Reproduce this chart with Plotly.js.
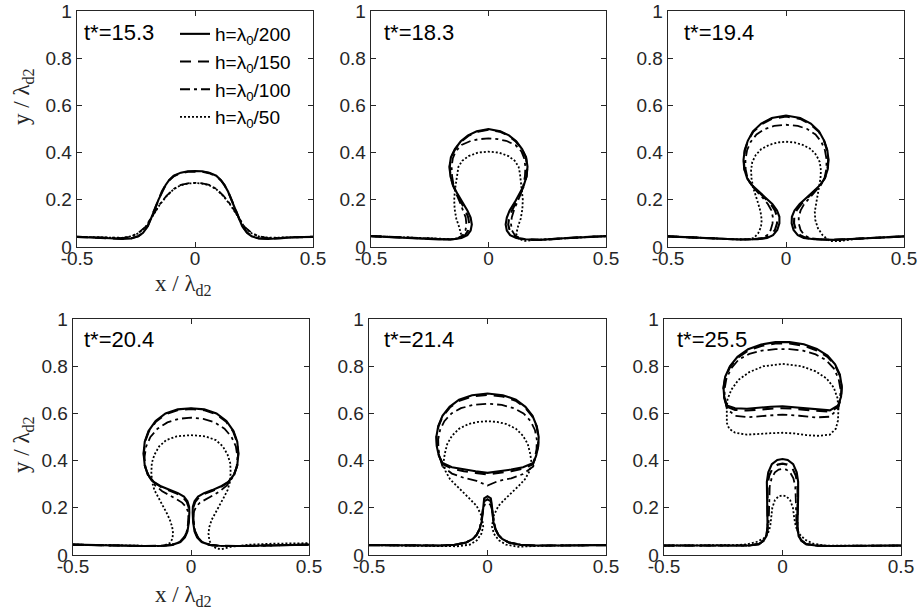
<!DOCTYPE html>
<html>
<head>
<meta charset="utf-8">
<script src="https://cdn.plot.ly/plotly-3.0.1.min.js"></script>
<style>html,body{margin:0;padding:0;background:#fff;}#chart{width:918px;height:616px;}</style>
</head>
<body>
<div id="chart"></div>
<script>
// ---- panel labels ----
const panelTimes = ["t*=15.3", "t*=18.3", "t*=19.4", "t*=20.4", "t*=21.4", "t*=25.5"];
const seriesNames = ["h=λ<sub>0</sub>/200", "h=λ<sub>0</sub>/150", "h=λ<sub>0</sub>/100", "h=λ<sub>0</sub>/50"];
const xTickVals = [-0.5, 0, 0.5];
const xTickText = ["-0.5", "0", "0.5"];
const yTickVals = [0, 0.2, 0.4, 0.6, 0.8, 1];
const yTickText = ["0", "0.2", "0.4", "0.6", "0.8", "1"];

// ---- panel 1 : t*=15.3 ----
const x_p1_h200 = [-0.5,-0.42,-0.36,-0.31,-0.27,-0.24,-0.22,-0.2,-0.185,-0.17,-0.155,-0.14,-0.125,-0.11,-0.09,-0.06,-0.03,0,0.03,0.06,0.09,0.11,0.125,0.14,0.155,0.17,0.185,0.2,0.22,0.24,0.27,0.31,0.36,0.42,0.5];
const y_p1_h200 = [0.043,0.041,0.037,0.034,0.036,0.045,0.06,0.088,0.122,0.16,0.2,0.235,0.262,0.283,0.302,0.315,0.321,0.322,0.321,0.315,0.302,0.283,0.262,0.235,0.2,0.16,0.122,0.088,0.06,0.045,0.036,0.034,0.037,0.041,0.043];
const x_p1_h150 = [-0.5,-0.42,-0.36,-0.31,-0.27,-0.24,-0.22,-0.2,-0.185,-0.17,-0.155,-0.14,-0.125,-0.11,-0.09,-0.06,-0.03,0,0.03,0.06,0.09,0.11,0.125,0.14,0.155,0.17,0.185,0.2,0.22,0.24,0.27,0.31,0.36,0.42,0.5];
const y_p1_h150 = [0.043,0.041,0.037,0.035,0.037,0.046,0.062,0.09,0.125,0.163,0.202,0.236,0.262,0.282,0.3,0.313,0.319,0.32,0.319,0.313,0.3,0.282,0.262,0.236,0.202,0.163,0.125,0.09,0.062,0.046,0.037,0.035,0.037,0.041,0.043];
const x_p1_h100 = [-0.5,-0.42,-0.36,-0.31,-0.27,-0.24,-0.21,-0.18,-0.15,-0.12,-0.09,-0.06,-0.03,0,0.03,0.06,0.09,0.12,0.15,0.18,0.21,0.24,0.27,0.31,0.36,0.42,0.5];
const y_p1_h100 = [0.043,0.042,0.039,0.038,0.045,0.06,0.085,0.135,0.18,0.218,0.246,0.263,0.27,0.272,0.27,0.263,0.246,0.218,0.18,0.135,0.085,0.06,0.045,0.038,0.039,0.042,0.043];
const x_p1_h50 = [-0.5,-0.42,-0.36,-0.31,-0.27,-0.24,-0.21,-0.18,-0.15,-0.12,-0.09,-0.06,-0.03,0,0.03,0.06,0.09,0.12,0.15,0.18,0.21,0.24,0.27,0.31,0.36,0.42,0.5];
const y_p1_h50 = [0.043,0.042,0.04,0.039,0.045,0.058,0.083,0.132,0.178,0.216,0.245,0.262,0.269,0.271,0.269,0.262,0.245,0.216,0.178,0.132,0.083,0.058,0.045,0.039,0.04,0.042,0.043];

// ---- panel 2 : t*=18.3 ----
const x_p2_h200 = [-0.5,-0.4,-0.3,-0.21,-0.15,-0.115,-0.09,-0.076,-0.071,-0.076,-0.09,-0.112,-0.132,-0.15,-0.162,-0.166,-0.16,-0.143,-0.118,-0.087,-0.05,0,0.05,0.087,0.118,0.143,0.16,0.166,0.162,0.15,0.132,0.112,0.09,0.078,0.073,0.078,0.092,0.118,0.155,0.22,0.3,0.4,0.5];
const y_p2_h200 = [0.046,0.042,0.036,0.032,0.033,0.038,0.05,0.07,0.095,0.125,0.155,0.19,0.225,0.26,0.3,0.34,0.38,0.415,0.448,0.473,0.49,0.5,0.49,0.473,0.448,0.415,0.38,0.34,0.3,0.26,0.225,0.19,0.155,0.125,0.095,0.07,0.05,0.038,0.033,0.03,0.036,0.042,0.046];
const x_p2_h150 = [-0.5,-0.4,-0.3,-0.21,-0.16,-0.125,-0.1,-0.087,-0.082,-0.086,-0.098,-0.117,-0.135,-0.151,-0.162,-0.165,-0.159,-0.142,-0.117,-0.086,-0.05,0,0.05,0.086,0.117,0.142,0.159,0.165,0.162,0.151,0.135,0.117,0.1,0.088,0.084,0.09,0.104,0.128,0.16,0.22,0.3,0.4,0.5];
const y_p2_h150 = [0.046,0.042,0.036,0.032,0.032,0.037,0.05,0.07,0.095,0.125,0.155,0.19,0.225,0.26,0.3,0.34,0.38,0.414,0.446,0.471,0.488,0.497,0.488,0.471,0.446,0.414,0.38,0.34,0.3,0.26,0.225,0.19,0.155,0.125,0.095,0.07,0.05,0.037,0.032,0.03,0.036,0.042,0.046];
const x_p2_h100 = [-0.5,-0.4,-0.3,-0.21,-0.16,-0.13,-0.11,-0.098,-0.094,-0.097,-0.107,-0.122,-0.137,-0.148,-0.155,-0.157,-0.152,-0.14,-0.115,-0.075,-0.04,0,0.04,0.075,0.115,0.14,0.152,0.157,0.155,0.148,0.137,0.122,0.108,0.099,0.096,0.1,0.112,0.135,0.165,0.22,0.3,0.4,0.5];
const y_p2_h100 = [0.046,0.042,0.036,0.032,0.032,0.037,0.05,0.07,0.095,0.125,0.155,0.19,0.225,0.26,0.3,0.34,0.375,0.405,0.432,0.45,0.457,0.46,0.457,0.45,0.432,0.405,0.375,0.34,0.3,0.26,0.225,0.19,0.155,0.125,0.095,0.07,0.05,0.037,0.032,0.03,0.036,0.042,0.046];
const x_p2_h50 = [-0.5,-0.4,-0.3,-0.2,-0.15,-0.125,-0.117,-0.125,-0.137,-0.144,-0.146,-0.143,-0.138,-0.134,-0.128,-0.112,-0.085,-0.045,0,0.045,0.085,0.112,0.128,0.134,0.138,0.143,0.146,0.144,0.137,0.125,0.118,0.128,0.155,0.2,0.3,0.4,0.5];
const y_p2_h50 = [0.046,0.042,0.036,0.033,0.033,0.038,0.055,0.085,0.12,0.16,0.2,0.24,0.28,0.31,0.34,0.365,0.385,0.4,0.404,0.4,0.385,0.365,0.34,0.31,0.28,0.24,0.2,0.16,0.12,0.085,0.055,0.035,0.026,0.03,0.036,0.042,0.046];

// ---- panel 3 : t*=19.4 ----
const x_p3_h200 = [-0.5,-0.4,-0.3,-0.2,-0.12,-0.08,-0.055,-0.037,-0.028,-0.028,-0.038,-0.058,-0.088,-0.118,-0.145,-0.165,-0.177,-0.18,-0.175,-0.162,-0.14,-0.105,-0.06,0,0.06,0.105,0.14,0.162,0.175,0.18,0.177,0.165,0.145,0.118,0.088,0.058,0.036,0.025,0.024,0.032,0.05,0.075,0.12,0.2,0.3,0.4,0.5];
const y_p3_h200 = [0.045,0.04,0.035,0.032,0.033,0.038,0.05,0.072,0.1,0.128,0.155,0.182,0.21,0.237,0.263,0.292,0.33,0.37,0.41,0.45,0.49,0.523,0.547,0.557,0.547,0.523,0.49,0.45,0.41,0.37,0.33,0.292,0.263,0.237,0.21,0.182,0.155,0.128,0.1,0.072,0.05,0.038,0.033,0.03,0.035,0.04,0.045];
const x_p3_h150 = [-0.5,-0.4,-0.3,-0.2,-0.13,-0.09,-0.065,-0.047,-0.038,-0.038,-0.047,-0.065,-0.092,-0.12,-0.146,-0.165,-0.176,-0.179,-0.174,-0.161,-0.139,-0.104,-0.06,0,0.06,0.104,0.139,0.161,0.174,0.179,0.176,0.165,0.146,0.12,0.092,0.065,0.045,0.035,0.034,0.042,0.06,0.085,0.13,0.2,0.3,0.4,0.5];
const y_p3_h150 = [0.045,0.04,0.035,0.032,0.033,0.038,0.05,0.072,0.1,0.128,0.155,0.182,0.21,0.237,0.263,0.292,0.33,0.37,0.41,0.45,0.488,0.52,0.543,0.553,0.543,0.52,0.488,0.45,0.41,0.37,0.33,0.292,0.263,0.237,0.21,0.182,0.155,0.128,0.1,0.072,0.05,0.038,0.033,0.03,0.035,0.04,0.045];
const x_p3_h100 = [-0.5,-0.4,-0.3,-0.2,-0.14,-0.105,-0.08,-0.065,-0.057,-0.056,-0.062,-0.077,-0.1,-0.125,-0.148,-0.163,-0.171,-0.172,-0.165,-0.15,-0.125,-0.09,-0.05,0,0.05,0.09,0.125,0.15,0.165,0.172,0.171,0.163,0.148,0.125,0.1,0.077,0.062,0.054,0.054,0.062,0.078,0.1,0.14,0.2,0.3,0.4,0.5];
const y_p3_h100 = [0.045,0.04,0.035,0.032,0.033,0.038,0.05,0.072,0.1,0.128,0.155,0.182,0.21,0.237,0.263,0.292,0.33,0.37,0.41,0.445,0.477,0.5,0.513,0.518,0.513,0.5,0.477,0.445,0.41,0.37,0.33,0.292,0.263,0.237,0.21,0.182,0.155,0.128,0.1,0.072,0.05,0.038,0.033,0.03,0.035,0.04,0.045];
const x_p3_h50 = [-0.5,-0.4,-0.3,-0.2,-0.15,-0.135,-0.118,-0.106,-0.103,-0.108,-0.118,-0.13,-0.14,-0.146,-0.148,-0.143,-0.128,-0.105,-0.07,-0.035,0,0.035,0.07,0.105,0.128,0.143,0.148,0.146,0.14,0.132,0.125,0.122,0.124,0.135,0.155,0.185,0.23,0.3,0.4,0.5];
const y_p3_h50 = [0.045,0.04,0.035,0.032,0.033,0.04,0.058,0.085,0.115,0.15,0.185,0.22,0.255,0.29,0.325,0.36,0.39,0.415,0.433,0.443,0.446,0.443,0.433,0.415,0.39,0.36,0.325,0.29,0.255,0.22,0.185,0.15,0.115,0.08,0.05,0.025,0.025,0.035,0.04,0.045];

// ---- panel 4 : t*=20.4 ----
const x_p4_h200 = [-0.5,-0.4,-0.3,-0.2,-0.12,-0.08,-0.045,-0.026,-0.015,-0.009,-0.007,-0.008,-0.015,-0.03,-0.055,-0.09,-0.125,-0.158,-0.182,-0.196,-0.201,-0.196,-0.18,-0.15,-0.108,-0.056,0,0.056,0.108,0.15,0.18,0.196,0.201,0.196,0.182,0.158,0.125,0.09,0.055,0.03,0.015,0.008,0.007,0.009,0.015,0.026,0.045,0.08,0.12,0.2,0.3,0.4,0.5];
const y_p4_h200 = [0.044,0.042,0.039,0.038,0.039,0.043,0.055,0.075,0.1,0.14,0.18,0.205,0.228,0.248,0.262,0.275,0.29,0.31,0.34,0.38,0.43,0.48,0.525,0.568,0.6,0.617,0.622,0.617,0.6,0.568,0.525,0.48,0.43,0.38,0.34,0.31,0.29,0.275,0.262,0.248,0.228,0.205,0.18,0.14,0.1,0.075,0.055,0.043,0.039,0.038,0.039,0.042,0.044];
const x_p4_h150 = [-0.5,-0.4,-0.3,-0.2,-0.12,-0.08,-0.047,-0.028,-0.017,-0.011,-0.009,-0.01,-0.018,-0.034,-0.06,-0.094,-0.128,-0.16,-0.183,-0.196,-0.2,-0.195,-0.179,-0.149,-0.107,-0.055,0,0.055,0.107,0.149,0.179,0.195,0.2,0.196,0.183,0.16,0.128,0.094,0.06,0.034,0.018,0.01,0.009,0.011,0.017,0.028,0.047,0.08,0.12,0.2,0.3,0.4,0.5];
const y_p4_h150 = [0.044,0.042,0.039,0.038,0.039,0.043,0.055,0.075,0.1,0.14,0.18,0.203,0.225,0.245,0.26,0.273,0.289,0.31,0.34,0.38,0.43,0.48,0.523,0.565,0.597,0.614,0.619,0.614,0.597,0.565,0.523,0.48,0.43,0.38,0.34,0.31,0.289,0.273,0.26,0.245,0.225,0.203,0.18,0.14,0.1,0.075,0.055,0.043,0.039,0.038,0.039,0.042,0.044];
const x_p4_h100 = [-0.5,-0.4,-0.3,-0.2,-0.12,-0.08,-0.048,-0.03,-0.018,-0.012,-0.01,-0.013,-0.022,-0.038,-0.062,-0.092,-0.122,-0.152,-0.177,-0.193,-0.197,-0.19,-0.172,-0.142,-0.1,-0.052,0,0.052,0.1,0.142,0.172,0.19,0.197,0.193,0.177,0.152,0.122,0.092,0.062,0.038,0.022,0.013,0.01,0.012,0.018,0.03,0.048,0.08,0.12,0.2,0.3,0.4,0.5];
const y_p4_h100 = [0.044,0.042,0.039,0.038,0.039,0.043,0.055,0.075,0.1,0.13,0.16,0.185,0.205,0.222,0.237,0.252,0.27,0.295,0.33,0.37,0.415,0.46,0.5,0.535,0.562,0.577,0.582,0.577,0.562,0.535,0.5,0.46,0.415,0.37,0.33,0.295,0.27,0.252,0.237,0.222,0.205,0.185,0.16,0.13,0.1,0.075,0.055,0.043,0.039,0.038,0.039,0.042,0.044];
const x_p4_h50 = [-0.5,-0.4,-0.3,-0.2,-0.14,-0.11,-0.09,-0.079,-0.076,-0.08,-0.09,-0.104,-0.12,-0.138,-0.155,-0.165,-0.168,-0.166,-0.155,-0.135,-0.105,-0.06,0,0.06,0.105,0.135,0.155,0.166,0.168,0.165,0.155,0.137,0.12,0.103,0.088,0.078,0.074,0.078,0.09,0.108,0.13,0.17,0.25,0.35,0.42,0.5];
const y_p4_h50 = [0.044,0.042,0.039,0.038,0.038,0.042,0.05,0.068,0.092,0.12,0.15,0.18,0.21,0.24,0.275,0.31,0.35,0.39,0.425,0.46,0.487,0.503,0.508,0.503,0.487,0.46,0.425,0.39,0.35,0.31,0.275,0.24,0.21,0.18,0.15,0.12,0.092,0.06,0.04,0.027,0.025,0.035,0.044,0.048,0.05,0.05];

// ---- panel 5 : t*=21.4 ----
const x_p5_h200 = [-0.5,-0.4,-0.3,-0.2,-0.14,-0.09,-0.062,-0.046,-0.033,-0.025,-0.02,-0.018,-0.014,0,0.014,0.018,0.02,0.025,0.033,0.046,0.062,0.09,0.14,0.2,0.3,0.4,0.5,null,-0.19,-0.205,-0.214,-0.216,-0.208,-0.19,-0.16,-0.12,-0.065,0,0.065,0.12,0.16,0.19,0.208,0.216,0.214,0.205,0.193,0.15,0.1,0.05,0,-0.05,-0.1,-0.15,-0.19];
const y_p5_h200 = [0.042,0.041,0.04,0.04,0.043,0.053,0.068,0.085,0.11,0.14,0.18,0.215,0.24,0.249,0.24,0.215,0.18,0.14,0.11,0.085,0.068,0.053,0.043,0.04,0.04,0.041,0.042,null,0.39,0.42,0.46,0.5,0.545,0.59,0.628,0.658,0.677,0.684,0.677,0.658,0.628,0.59,0.545,0.5,0.46,0.42,0.39,0.372,0.362,0.355,0.348,0.355,0.362,0.372,0.39];
const x_p5_h150 = [-0.5,-0.4,-0.3,-0.2,-0.14,-0.09,-0.062,-0.046,-0.033,-0.026,-0.021,-0.018,-0.013,0,0.013,0.018,0.021,0.026,0.033,0.046,0.062,0.09,0.14,0.2,0.3,0.4,0.5,null,-0.19,-0.204,-0.213,-0.215,-0.207,-0.189,-0.159,-0.119,-0.064,0,0.064,0.119,0.159,0.189,0.207,0.215,0.213,0.204,0.192,0.15,0.1,0.05,0,-0.05,-0.1,-0.15,-0.19];
const y_p5_h150 = [0.042,0.041,0.04,0.04,0.043,0.053,0.068,0.085,0.11,0.14,0.18,0.21,0.228,0.236,0.228,0.21,0.18,0.14,0.11,0.085,0.068,0.053,0.043,0.04,0.04,0.041,0.042,null,0.385,0.42,0.46,0.5,0.545,0.588,0.625,0.654,0.672,0.679,0.672,0.654,0.625,0.588,0.545,0.5,0.46,0.42,0.385,0.366,0.355,0.348,0.342,0.348,0.355,0.366,0.385];
const x_p5_h100 = [-0.5,-0.4,-0.3,-0.2,-0.14,-0.09,-0.062,-0.046,-0.034,-0.027,-0.022,-0.018,-0.012,0,0.012,0.018,0.022,0.027,0.034,0.046,0.062,0.09,0.14,0.2,0.3,0.4,0.5,null,-0.19,-0.2,-0.207,-0.208,-0.2,-0.182,-0.152,-0.112,-0.06,0,0.06,0.112,0.152,0.182,0.2,0.208,0.207,0.2,0.193,0.15,0.1,0.046,0,-0.046,-0.1,-0.15,-0.19];
const y_p5_h100 = [0.042,0.041,0.04,0.04,0.043,0.053,0.068,0.085,0.11,0.14,0.17,0.195,0.213,0.22,0.213,0.195,0.17,0.14,0.11,0.085,0.068,0.053,0.043,0.04,0.04,0.041,0.042,null,0.375,0.41,0.45,0.49,0.53,0.567,0.6,0.622,0.636,0.641,0.636,0.622,0.6,0.567,0.53,0.49,0.45,0.41,0.375,0.343,0.325,0.314,0.294,0.314,0.327,0.345,0.375];
const x_p5_h50 = [-0.5,-0.35,-0.2,-0.13,-0.074,-0.045,-0.026,-0.018,-0.025,-0.046,-0.075,-0.102,-0.132,-0.158,-0.177,-0.186,-0.18,-0.17,-0.15,-0.12,-0.08,-0.04,0,0.04,0.08,0.12,0.15,0.17,0.18,0.186,0.177,0.158,0.132,0.102,0.075,0.046,0.026,0.019,0.027,0.048,0.078,0.13,0.2,0.35,0.5];
const y_p5_h50 = [0.042,0.041,0.039,0.037,0.044,0.062,0.09,0.12,0.166,0.208,0.238,0.265,0.293,0.321,0.355,0.391,0.43,0.47,0.505,0.535,0.555,0.564,0.567,0.564,0.555,0.535,0.505,0.47,0.43,0.391,0.355,0.321,0.293,0.265,0.238,0.208,0.166,0.12,0.09,0.062,0.044,0.035,0.038,0.041,0.042];

// ---- panel 6 : t*=25.5 ----
const x_p6_h200 = [-0.5,-0.35,-0.2,-0.14,-0.1,-0.08,-0.068,-0.063,-0.064,-0.066,-0.066,-0.06,-0.045,-0.022,0,0.022,0.045,0.06,0.066,0.066,0.064,0.063,0.068,0.08,0.1,0.14,0.2,0.35,0.5,null,-0.235,-0.246,-0.249,-0.242,-0.222,-0.19,-0.145,-0.09,-0.03,0.03,0.09,0.145,0.19,0.222,0.242,0.25,0.247,0.235,0.2,0.15,0.1,0.05,0,-0.05,-0.1,-0.15,-0.2,-0.235];
const y_p6_h200 = [0.04,0.039,0.038,0.04,0.046,0.06,0.08,0.12,0.18,0.25,0.31,0.35,0.385,0.403,0.407,0.403,0.385,0.35,0.31,0.25,0.18,0.12,0.08,0.06,0.046,0.04,0.038,0.039,0.04,null,0.634,0.67,0.71,0.755,0.8,0.84,0.872,0.892,0.902,0.902,0.893,0.873,0.845,0.808,0.765,0.715,0.67,0.634,0.613,0.617,0.622,0.628,0.63,0.628,0.624,0.62,0.622,0.634];
const x_p6_h150 = [-0.5,-0.35,-0.2,-0.14,-0.1,-0.08,-0.068,-0.063,-0.063,-0.064,-0.063,-0.056,-0.042,-0.02,0,0.02,0.042,0.056,0.063,0.064,0.063,0.063,0.068,0.08,0.1,0.14,0.2,0.35,0.5,null,-0.235,-0.246,-0.249,-0.242,-0.222,-0.19,-0.145,-0.09,-0.03,0.03,0.09,0.145,0.19,0.222,0.242,0.25,0.247,0.235,0.2,0.15,0.1,0.05,0,-0.05,-0.1,-0.15,-0.2,-0.235];
const y_p6_h150 = [0.04,0.039,0.038,0.04,0.046,0.06,0.08,0.12,0.18,0.25,0.3,0.337,0.367,0.383,0.387,0.383,0.367,0.337,0.3,0.25,0.18,0.12,0.08,0.06,0.046,0.04,0.038,0.039,0.04,null,0.628,0.665,0.705,0.75,0.795,0.835,0.866,0.886,0.896,0.896,0.887,0.867,0.84,0.803,0.76,0.71,0.665,0.628,0.607,0.61,0.615,0.62,0.622,0.62,0.616,0.612,0.615,0.628];
const x_p6_h100 = [-0.5,-0.35,-0.2,-0.14,-0.1,-0.078,-0.065,-0.059,-0.057,-0.056,-0.054,-0.046,-0.032,-0.016,0,0.016,0.032,0.046,0.054,0.056,0.057,0.059,0.065,0.078,0.1,0.14,0.2,0.35,0.5,null,-0.235,-0.243,-0.245,-0.237,-0.217,-0.185,-0.14,-0.087,-0.03,0.03,0.087,0.14,0.185,0.217,0.237,0.245,0.243,0.235,0.2,0.14,0.07,0,-0.07,-0.14,-0.2,-0.235];
const y_p6_h100 = [0.04,0.039,0.038,0.04,0.048,0.065,0.09,0.13,0.18,0.24,0.29,0.325,0.35,0.362,0.365,0.362,0.35,0.325,0.29,0.24,0.18,0.13,0.09,0.065,0.048,0.04,0.038,0.039,0.04,null,0.62,0.66,0.7,0.745,0.79,0.828,0.852,0.866,0.872,0.872,0.866,0.85,0.825,0.79,0.745,0.7,0.66,0.62,0.586,0.583,0.59,0.595,0.59,0.584,0.59,0.62];
const x_p6_h50 = [-0.5,-0.35,-0.2,-0.15,-0.11,-0.08,-0.062,-0.052,-0.047,-0.043,-0.032,-0.016,0,0.016,0.032,0.044,0.049,0.056,0.07,0.095,0.13,0.18,0.3,0.5,null,-0.235,-0.232,-0.216,-0.186,-0.14,-0.08,0,0.08,0.14,0.186,0.216,0.232,0.236,0.234,0.225,0.2,0.15,0.1,0.05,0,-0.05,-0.1,-0.15,-0.2,-0.225,-0.235,-0.235];
const y_p6_h50 = [0.04,0.04,0.042,0.045,0.055,0.07,0.09,0.12,0.16,0.2,0.233,0.249,0.253,0.249,0.233,0.2,0.16,0.12,0.09,0.065,0.048,0.04,0.04,0.04,null,0.62,0.66,0.7,0.742,0.775,0.8,0.81,0.8,0.778,0.748,0.71,0.665,0.62,0.57,0.535,0.51,0.505,0.508,0.515,0.518,0.516,0.512,0.51,0.518,0.535,0.56,0.62];

// ---- assemble ----
const panelData = [
  [[x_p1_h200, y_p1_h200], [x_p1_h150, y_p1_h150], [x_p1_h100, y_p1_h100], [x_p1_h50, y_p1_h50]],
  [[x_p2_h200, y_p2_h200], [x_p2_h150, y_p2_h150], [x_p2_h100, y_p2_h100], [x_p2_h50, y_p2_h50]],
  [[x_p3_h200, y_p3_h200], [x_p3_h150, y_p3_h150], [x_p3_h100, y_p3_h100], [x_p3_h50, y_p3_h50]],
  [[x_p4_h200, y_p4_h200], [x_p4_h150, y_p4_h150], [x_p4_h100, y_p4_h100], [x_p4_h50, y_p4_h50]],
  [[x_p5_h200, y_p5_h200], [x_p5_h150, y_p5_h150], [x_p5_h100, y_p5_h100], [x_p5_h50, y_p5_h50]],
  [[x_p6_h200, y_p6_h200], [x_p6_h150, y_p6_h150], [x_p6_h100, y_p6_h100], [x_p6_h50, y_p6_h50]]
];
const lineStyles = [
  {dash: 'solid', width: 2.1},
  {dash: '11px,7px', width: 2.1},
  {dash: '10px,4px,3px,4px', width: 1.8},
  {dash: '2px,2px', width: 1.8}
];

const W = 918, H = 616;
// plot boxes in pixels [left, right, top, bottom]
const boxes = [
  [77, 313, 11, 247], [371, 606, 11, 247], [668, 904, 11, 247],
  [73, 309, 319, 555], [369, 606, 319, 555], [664, 901, 319, 555]
];
const labelPos = [[-0.478, 0.91], [-0.452, 0.91], [-0.44, 0.91], [-0.462, 0.915], [-0.445, 0.915], [-0.455, 0.915]];

const traces = [];
panelData.forEach((series, p) => {
  series.forEach((xy, s) => {
    traces.push({
      type: 'scatter', mode: 'lines',
      x: xy[0], y: xy[1],
      xaxis: 'x' + (p === 0 ? '' : p + 1),
      yaxis: 'y' + (p === 0 ? '' : p + 1),
      name: seriesNames[s],
      showlegend: p === 0,
      legendgroup: 'g' + s,
      connectgaps: false,
      line: {color: '#000', width: lineStyles[s].width, dash: lineStyles[s].dash},
      hoverinfo: 'skip'
    });
  });
});

const tickFont = {family: 'Liberation Sans, Arial, sans-serif', size: 19, color: '#262626'};
const layout = {
  width: W, height: H,
  margin: {l: 0, r: 0, t: 0, b: 0},
  paper_bgcolor: '#fff', plot_bgcolor: '#fff',
  showlegend: true,
  legend: {
    x: 175 / W, y: 1 - 15 / H, xanchor: 'left', yanchor: 'top',
    bgcolor: 'rgba(0,0,0,0)', borderwidth: 0,
    font: {family: 'Liberation Sans, Arial, sans-serif', size: 19, color: '#000'},
    traceorder: 'grouped', tracegroupgap: 0
  },
  annotations: [],
  font: {family: 'Liberation Sans, Arial, sans-serif'}
};

boxes.forEach((b, p) => {
  const sfx = p === 0 ? '' : String(p + 1);
  const common = {
    showline: true, linecolor: '#262626', linewidth: 1.3, mirror: 'ticks',
    ticks: 'inside', ticklen: 5, tickwidth: 1, tickcolor: '#262626',
    showgrid: false, zeroline: false, tickfont: tickFont, fixedrange: true
  };
  layout['xaxis' + sfx] = Object.assign({}, common, {
    domain: [b[0] / W, b[1] / W], anchor: 'y' + sfx, range: [-0.5, 0.5],
    tickmode: 'array', tickvals: xTickVals, ticktext: xTickText,
    ticklabelstandoff: -6
  });
  layout['yaxis' + sfx] = Object.assign({}, common, {
    domain: [1 - b[3] / H, 1 - b[2] / H], anchor: 'x' + sfx, range: [0, 1],
    tickmode: 'array', tickvals: yTickVals, ticktext: yTickText
  });
  layout.annotations.push({
    text: panelTimes[p], xref: 'x' + sfx, yref: 'y' + sfx,
    x: labelPos[p][0], y: labelPos[p][1], xanchor: 'left', yanchor: 'middle',
    showarrow: false, font: {family: 'Liberation Sans, Arial, sans-serif', size: 22, color: '#000'}
  });
});

const serif = {family: 'Liberation Serif, Times New Roman, serif', size: 23, color: '#262626'};
[[23, 97], [23, 445]].forEach(pt => {
  layout.annotations.push({text: 'y / λ<sub>d2</sub>', xref: 'paper', yref: 'paper',
    x: pt[0] / W, y: 1 - pt[1] / H, xanchor: 'center', yanchor: 'middle',
    textangle: -90, showarrow: false, font: serif});
});
[[183, 285], [183, 596]].forEach(pt => {
  layout.annotations.push({text: 'x / λ<sub>d2</sub>', xref: 'paper', yref: 'paper',
    x: pt[0] / W, y: 1 - pt[1] / H, xanchor: 'center', yanchor: 'middle',
    showarrow: false, font: serif});
});

Plotly.newPlot('chart', traces, layout, {displayModeBar: false, staticPlot: true});
</script>
</body>
</html>
